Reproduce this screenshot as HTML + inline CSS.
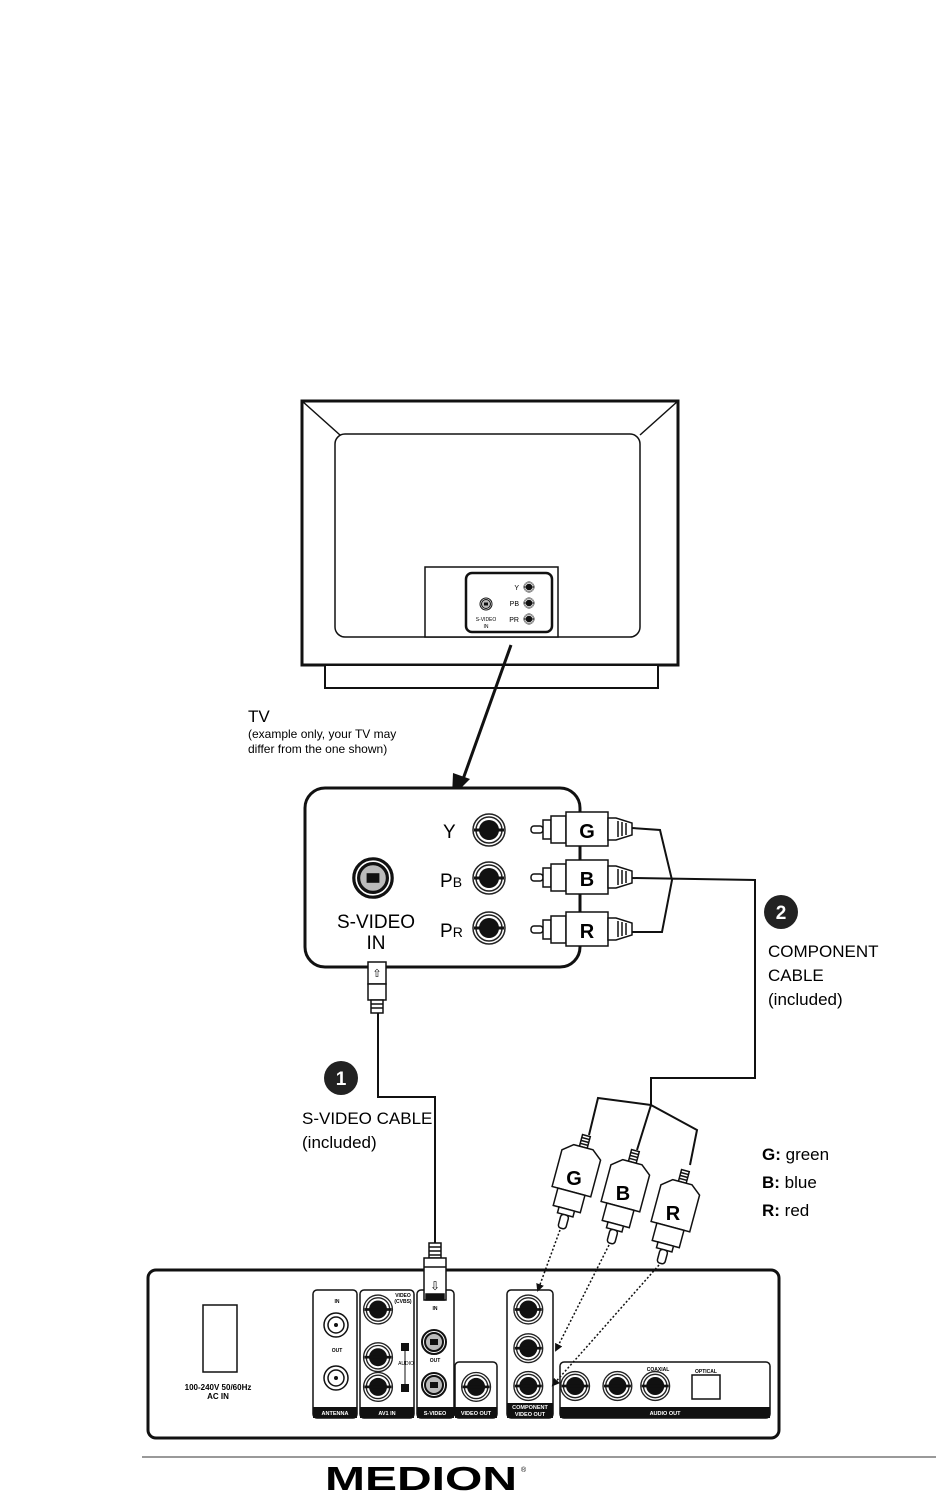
<!DOCTYPE html>
<html><head><meta charset="utf-8"><style>
html,body{margin:0;padding:0;background:#fff}
svg{display:block}
text{font-family:"Liberation Sans",sans-serif}
</style></head><body>
<svg width="936" height="1492" viewBox="0 0 936 1492" xmlns="http://www.w3.org/2000/svg">
<defs>
<g id="rca">
<circle r="16" fill="#fff" stroke="#222" stroke-width="1.5"/>
<circle r="13" fill="#fff" stroke="#222" stroke-width="1.5"/>
<circle r="10" fill="#111"/>
<rect x="-15" y="-1.5" width="30" height="3" fill="#111"/>
</g>
<g id="sv">
<circle r="12" fill="#fff" stroke="#111" stroke-width="2"/>
<circle r="9" fill="#bbb" stroke="#111" stroke-width="2"/>
<rect x="-4" y="-3" width="8" height="6" fill="#111"/>
</g>
<g id="plug" stroke="#111" stroke-width="1.5" fill="#fff">
<rect x="-4" y="-48" width="8" height="12"/>
<line x1="-4" y1="-45" x2="4" y2="-45"/><line x1="-4" y1="-42" x2="4" y2="-42"/><line x1="-4" y1="-39" x2="4" y2="-39"/>
<path d="M-10,-36 L10,-36 L20,-28 L20,10 L-20,10 L-20,-28 Z"/>
<rect x="-14" y="10" width="28" height="18"/>
<rect x="-8" y="28" width="16" height="6"/>
<rect x="-4" y="34" width="8" height="14" rx="3"/>
</g>
<marker id="ah" markerWidth="8" markerHeight="8" refX="6" refY="4" orient="auto" markerUnits="userSpaceOnUse"><path d="M0,0 L8,4 L0,8 Z" fill="#111"/></marker>
</defs>

<!-- TV -->
<rect x="302" y="401" width="376" height="264" fill="#fff" stroke="#111" stroke-width="3"/>
<rect x="325" y="665" width="333" height="23" fill="#fff" stroke="#111" stroke-width="2"/>
<line x1="302" y1="401" x2="340" y2="435" stroke="#111" stroke-width="1.5"/>
<line x1="678" y1="401" x2="640" y2="435" stroke="#111" stroke-width="1.5"/>
<rect x="335" y="434" width="305" height="203" rx="10" fill="#fff" stroke="#111" stroke-width="1.5"/>
<rect x="425" y="567" width="133" height="70" fill="#fff" stroke="#111" stroke-width="1.5"/>
<rect x="466" y="573" width="86" height="59" rx="6" fill="#fff" stroke="#111" stroke-width="2.5"/>
<g transform="translate(529,587) scale(0.33)"><use href="#rca"/></g>
<g transform="translate(529,603) scale(0.33)"><use href="#rca"/></g>
<g transform="translate(529,619) scale(0.33)"><use href="#rca"/></g>
<text x="519" y="590" font-size="7" text-anchor="end">Y</text>
<text x="519" y="606" font-size="7" text-anchor="end">PB</text>
<text x="519" y="622" font-size="7" text-anchor="end">PR</text>
<g transform="translate(486,604) scale(0.5)"><use href="#sv"/></g>
<text x="486" y="621" font-size="5" text-anchor="middle">S-VIDEO</text>
<text x="486" y="628" font-size="5" text-anchor="middle">IN</text>
<line x1="511" y1="645" x2="462" y2="782" stroke="#111" stroke-width="3"/>
<path d="M452,797 L453,773 L470,779 Z" fill="#111"/>

<text x="248" y="722" font-size="17">TV</text>
<text x="248" y="738" font-size="12">(example only, your TV may</text>
<text x="248" y="753" font-size="12">differ from the one shown)</text>

<!-- connector box -->
<rect x="305" y="788" width="275" height="179" rx="20" fill="#fff" stroke="#111" stroke-width="3"/>
<use href="#rca" x="489" y="830"/>
<use href="#rca" x="489" y="878"/>
<use href="#rca" x="489" y="928"/>
<text x="443" y="838" font-size="19">Y</text>
<text x="440" y="887" font-size="19">P<tspan font-size="14">B</tspan></text>
<text x="440" y="937" font-size="19">P<tspan font-size="14">R</tspan></text>
<g transform="translate(373,878) scale(1.6)"><use href="#sv"/></g>
<text x="376" y="928" font-size="19" text-anchor="middle">S-VIDEO</text>
<text x="376" y="949" font-size="19" text-anchor="middle">IN</text>
<line x1="580" y1="845" x2="580" y2="915" stroke="#111" stroke-width="2"/>
<g stroke="#111" stroke-width="1.5" fill="#fff">
<g id="hp">
<rect x="531" y="826" width="12" height="7" rx="3"/>
<rect x="543" y="820" width="8" height="19"/>
<rect x="551" y="816" width="15" height="27"/>
<rect x="566" y="812" width="42" height="34"/>
<path d="M608,818 L616,818 L632,823 L632,835 L616,840 L608,840 Z"/>
<line x1="618" y1="821" x2="618" y2="837"/><line x1="622" y1="822" x2="622" y2="836"/><line x1="626" y1="823" x2="626" y2="835"/>
</g>
<use href="#hp" y="48"/>
<use href="#hp" y="100"/>
</g>
<text x="587" y="838" font-size="20" font-weight="bold" text-anchor="middle">G</text>
<text x="587" y="886" font-size="20" font-weight="bold" text-anchor="middle">B</text>
<text x="587" y="938" font-size="20" font-weight="bold" text-anchor="middle">R</text>
<path d="M632,828 L660,830 L672,880 L662,932 L632,932 M632,878 L755,880 L755,1078 L651,1078 L651,1105" fill="none" stroke="#111" stroke-width="2"/>

<circle cx="781" cy="912" r="17" fill="#222"/>
<text x="781" y="919" font-size="19" font-weight="bold" fill="#fff" text-anchor="middle">2</text>
<text x="768" y="957" font-size="17">COMPONENT</text>
<text x="768" y="981" font-size="17">CABLE</text>
<text x="768" y="1005" font-size="17">(included)</text>

<!-- S-video plug & cable -->
<g stroke="#111" stroke-width="1.5" fill="#fff">
<rect x="368" y="962" width="18" height="22"/>
<rect x="368" y="984" width="18" height="16"/>
<rect x="371" y="1000" width="12" height="13"/>
<line x1="371" y1="1004" x2="383" y2="1004"/><line x1="371" y1="1008" x2="383" y2="1008"/>
</g>
<text x="377" y="977" font-size="11" text-anchor="middle">⇧</text>
<path d="M378,1013 L378,1097 L435,1097 L435,1243" fill="none" stroke="#111" stroke-width="2"/>
<circle cx="341" cy="1078" r="17" fill="#222"/>
<text x="341" y="1085" font-size="19" font-weight="bold" fill="#fff" text-anchor="middle">1</text>
<text x="302" y="1124" font-size="17">S-VIDEO CABLE</text>
<text x="302" y="1148" font-size="17">(included)</text>

<!-- plugs -->
<path d="M651,1105 L598,1098 L589,1135 M651,1105 L697,1130 L690,1165 M651,1105 L637,1150" fill="none" stroke="#111" stroke-width="2"/>
<g transform="translate(574,1182) rotate(15)"><use href="#plug"/><text y="3" font-size="20" font-weight="bold" text-anchor="middle" transform="rotate(-15)">G</text></g>
<g transform="translate(623,1197) rotate(15)"><use href="#plug"/><text y="3" font-size="20" font-weight="bold" text-anchor="middle" transform="rotate(-15)">B</text></g>
<g transform="translate(673,1217) rotate(15)"><use href="#plug"/><text y="3" font-size="20" font-weight="bold" text-anchor="middle" transform="rotate(-15)">R</text></g>
<text x="762" y="1160" font-size="17"><tspan font-weight="bold">G:</tspan> green</text>
<text x="762" y="1188" font-size="17"><tspan font-weight="bold">B:</tspan> blue</text>
<text x="762" y="1216" font-size="17"><tspan font-weight="bold">R:</tspan> red</text>

<!-- device -->
<rect x="148" y="1270" width="631" height="168" rx="8" fill="#fff" stroke="#111" stroke-width="3"/>
<rect x="203" y="1305" width="34" height="67" fill="#fff" stroke="#111" stroke-width="1.5"/>
<text x="218" y="1390" font-size="8" font-weight="bold" text-anchor="middle">100-240V  50/60Hz</text>
<text x="218" y="1399" font-size="8" font-weight="bold" text-anchor="middle">AC IN</text>
<g stroke="#111" stroke-width="1.5" fill="#fff">
<rect x="313" y="1290" width="44" height="128" rx="4"/>
<rect x="360" y="1290" width="54" height="128" rx="4"/>
<rect x="417" y="1290" width="37" height="128" rx="4"/>
<rect x="455" y="1362" width="42" height="56" rx="4"/>
<rect x="507" y="1290" width="46" height="128" rx="4"/>
<rect x="560" y="1362" width="210" height="56" rx="4"/>
<rect x="692" y="1375" width="28" height="24"/>
</g>
<g fill="#111">
<rect x="313" y="1407" width="44" height="11"/>
<rect x="360" y="1407" width="54" height="11"/>
<rect x="417" y="1407" width="37" height="11"/>
<rect x="455" y="1407" width="42" height="11"/>
<rect x="507" y="1403" width="46" height="15"/>
<rect x="560" y="1407" width="210" height="11"/>
</g>
<g fill="#fff" font-size="5.5" font-weight="bold" text-anchor="middle">
<text x="335" y="1415">ANTENNA</text>
<text x="387" y="1415">AV1 IN</text>
<text x="435" y="1415">S-VIDEO</text>
<text x="476" y="1415">VIDEO OUT</text>
<text x="530" y="1409">COMPONENT</text>
<text x="530" y="1416">VIDEO OUT</text>
<text x="665" y="1415">AUDIO OUT</text>
</g>
<g font-size="5" font-weight="bold" text-anchor="middle">
<text x="337" y="1303">IN</text><text x="337" y="1352">OUT</text>
<text x="435" y="1310">IN</text><text x="435" y="1362">OUT</text>
<text x="403" y="1297">VIDEO</text><text x="403" y="1303">(CVBS)</text>
<text x="406" y="1365" font-weight="normal">AUDIO</text>
<text x="658" y="1371">COAXIAL</text><text x="706" y="1373">OPTICAL</text>
</g>
<g stroke="#111" stroke-width="1.5" fill="#fff">
<circle cx="336" cy="1325" r="12"/><circle cx="336" cy="1325" r="8"/>
<circle cx="336" cy="1378" r="12"/><circle cx="336" cy="1378" r="8"/>
</g>
<circle cx="336" cy="1325" r="2" fill="#111"/><circle cx="336" cy="1378" r="2" fill="#111"/>
<g transform="scale(0.9)">
<use href="#rca" x="420" y="1455"/>
<use href="#rca" x="420" y="1508"/>
<use href="#rca" x="420" y="1541"/>
<use href="#rca" x="529" y="1541"/>
<use href="#rca" x="587" y="1455"/>
<use href="#rca" x="587" y="1498"/>
<use href="#rca" x="587" y="1540"/>
<use href="#rca" x="639" y="1540"/>
<use href="#rca" x="686" y="1540"/>
<use href="#rca" x="728" y="1540"/>
</g>
<line x1="405" y1="1348" x2="405" y2="1388" stroke="#111" stroke-width="1"/>
<rect x="401" y="1343" width="8" height="8" fill="#111"/><rect x="401" y="1384" width="8" height="8" fill="#111"/>
<use href="#sv" x="434" y="1342"/>
<use href="#sv" x="434" y="1385"/>
<!-- device s-video plug -->
<g stroke="#111" stroke-width="1.5" fill="#fff">
<rect x="429" y="1243" width="12" height="15"/>
<line x1="429" y1="1247" x2="441" y2="1247"/><line x1="429" y1="1251" x2="441" y2="1251"/><line x1="429" y1="1255" x2="441" y2="1255"/>
<rect x="424" y="1258" width="22" height="42"/>
<line x1="424" y1="1267" x2="446" y2="1267"/>
<rect x="426" y="1294" width="18" height="6" fill="#111"/>
</g>
<text x="435" y="1290" font-size="12" text-anchor="middle">⇩</text>

<!-- dotted connections -->
<g stroke="#111" stroke-width="1.5" stroke-dasharray="2,2" fill="none" marker-end="url(#ah)">
<line x1="560" y1="1230" x2="538" y2="1290"/>
<line x1="609" y1="1245" x2="556" y2="1350"/>
<line x1="659" y1="1265" x2="553" y2="1385"/>
</g>

<!-- footer -->
<line x1="142" y1="1457" x2="936" y2="1457" stroke="#999" stroke-width="2"/>
<text x="325" y="1490" font-size="33" font-weight="bold" textLength="192" lengthAdjust="spacingAndGlyphs">MEDION</text>
<text x="521" y="1472" font-size="7">®</text>
</svg>
</body></html>
